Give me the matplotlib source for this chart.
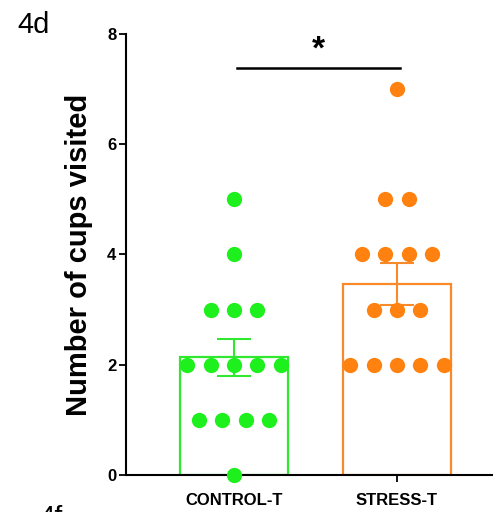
import numpy as np
import matplotlib
matplotlib.use("Agg")
import matplotlib.pyplot as plt

plt.rcParams["font.family"] = ["Liberation Sans", "DejaVu Sans"]

groups = ["CONTROL-T", "STRESS-T"]
control_t = [5, 4, 3, 3, 3, 2, 2, 2, 2, 2, 1, 1, 1, 1, 0]
stress_t = [7, 5, 5, 4, 4, 4, 4, 3, 3, 3, 2, 2, 2, 2, 2]
colors = ["#1ef01e", "#ff8210"]
edge_colors = ["#30e830", "#f98a2a"]
y_ticks = [0, 2, 4, 6, 8]


def swarm_offsets(values, spacing=0.143):
    # spread points sharing the same value evenly around the centre
    values = np.asarray(values)
    offsets = np.zeros(len(values))
    for v in np.unique(values):
        idx = np.where(values == v)[0]
        n = len(idx)
        offsets[idx] = (np.arange(n) - (n - 1) / 2) * spacing
    return offsets


fig = plt.figure(figsize=(4.93, 5.12), dpi=100)
ax = fig.add_axes([0.2556, 0.0723, 0.7444, 0.8613])

for i, data in enumerate([control_t, stress_t]):
    data = np.asarray(data, dtype=float)
    mean = data.mean()
    sem = data.std(ddof=1) / np.sqrt(len(data))
    ax.bar(i, mean, width=0.66, facecolor="white", edgecolor=edge_colors[i],
           linewidth=1.6, zorder=1)
    ax.errorbar(i, mean, yerr=sem, color=edge_colors[i], capsize=12,
                elinewidth=1.5, capthick=1.5, zorder=2)
    ax.plot(i + swarm_offsets(data), data, "o", color=colors[i],
            markersize=11, markeredgewidth=0, zorder=3, clip_on=False)

# significance bracket
ax.plot([0.02, 1.02], [7.38, 7.38], color="black", lw=1.8, clip_on=False)
ax.text(0.52, 7.7, "*", ha="center", va="center", fontsize=24,
        fontweight="bold")

ax.set_xlim(-0.663, 1.589)
ax.set_ylim(0, 8)
ax.set_yticks(y_ticks)
ax.set_xticks([0, 1])
ax.set_xticklabels(groups, fontsize=12, fontweight="bold")
ax.tick_params(axis="both", width=1.3, length=5, labelsize=12)
ax.tick_params(axis="y", pad=2)
for lab in ax.get_yticklabels():
    lab.set_fontweight("bold")
ax.tick_params(axis="x", pad=8)
ax.set_ylabel("Number of cups visited", fontsize=21, fontweight="bold",
              labelpad=10)

for side in ["top", "right"]:
    ax.spines[side].set_visible(False)
for side in ["left", "bottom"]:
    ax.spines[side].set_linewidth(1.5)

fig.text(0.036, 0.935, "4d", fontsize=21)
fig.text(0.08, -0.025, "4f", fontsize=20)

fig.savefig("out.png", dpi=100)
